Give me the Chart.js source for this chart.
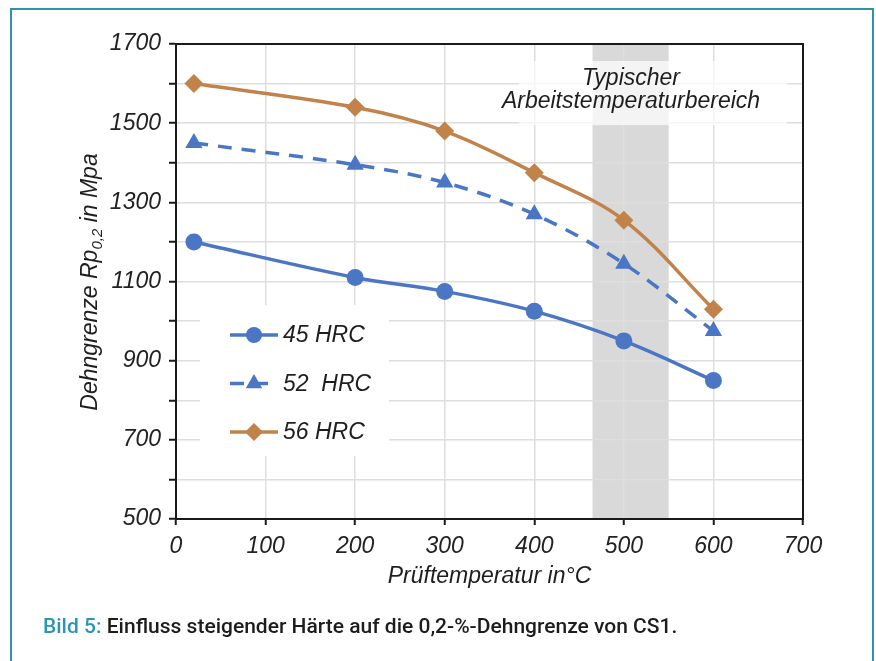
<!DOCTYPE html>
<html>
<head>
<meta charset="utf-8">
<script src="https://cdn.jsdelivr.net/npm/chart.js@4.4.0/dist/chart.umd.min.js"></script>
<style>
  body { margin: 0; background: #fff; }
  #frame { position: absolute; left: 10px; top: 8px; width: 860px; height: 700px; border: 2.5px solid #3191ac; }
  #c { position: absolute; left: 0; top: 0; }
  #caption { position: absolute; left: 43px; top: 614px; font-family: Roboto, sans-serif; font-weight: 500; font-size: 21px; color: #1c1c1c; white-space: nowrap; }
  #caption span { color: #2b95b4; }
</style>
</head>
<body>
<div id="frame"></div>
<canvas id="c" width="876" height="661"></canvas>
<div id="caption"><span>Bild 5:</span> Einfluss steigender Härte auf die 0,2-%-Dehngrenze von CS1.</div>
<script>
// Werte
const temps = [20, 200, 300, 400, 500, 600];
const hrc45 = [1200, 1110, 1075, 1025, 950, 850];
const hrc52 = [1450, 1395, 1350, 1270, 1145, 975];
const hrc56 = [1600, 1540, 1480, 1375, 1255, 1030];
const seriesLabels = ['45 HRC', '52  HRC', '56 HRC'];
const bandRange = [465, 550];
const bandText = ['Typischer', 'Arbeitstemperaturbereich'];
const xTitle = 'Prüftemperatur in°C';
const yTitle = ['Dehngrenze Rp', '0,2', ' in Mpa'];

const blue = '#4a76c3';
const brown = '#c1834a';
const fam = '"Liberation Sans", Arial, sans-serif';
const font = 'italic 23px ' + fam;

function pts(ys) {
    return temps.map((t, i) => ({x: t, y: ys[i]}));
}

const extras = {
    id: 'extras',
    beforeDraw(chart) {
        const {ctx, chartArea: a, scales: {x}} = chart;
        ctx.save();
        ctx.fillStyle = '#d9d9d9';
        const x1 = x.getPixelForValue(bandRange[0]), x2 = x.getPixelForValue(bandRange[1]);
        ctx.fillRect(x1, a.top, x2 - x1, a.bottom - a.top);
        ctx.restore();
    },
    beforeDatasetsDraw(chart) {
        const {ctx, chartArea: a, scales: {x, y}} = chart;
        ctx.save();
        // Textfeld
        ctx.fillStyle = 'rgba(255,255,255,0.7)';
        ctx.fillRect(x.getPixelForValue(383), y.getPixelForValue(1657), x.getPixelForValue(682) - x.getPixelForValue(383), y.getPixelForValue(1495) - y.getPixelForValue(1657));
        ctx.fillStyle = '#1e1e1e';
        ctx.font = font;
        ctx.textAlign = 'center';
        ctx.textBaseline = 'middle';
        ctx.fillText(bandText[0], 631, 79);
        ctx.fillText(bandText[1], 631, 102);
        // Legendenfeld
        ctx.fillStyle = '#fff';
        ctx.fillRect(a.left + 24, 305, 189, 151);
        // Rahmen
        ctx.strokeStyle = '#1a1a1a';
        ctx.lineWidth = 2;
        ctx.strokeRect(a.left, a.top, a.right - a.left, a.bottom - a.top);
        ctx.restore();
    },
    afterDraw(chart) {
        const {ctx, chartArea: a} = chart;
        ctx.save();
        ctx.font = font;
        // Legende
        chart.data.datasets.forEach((ds, i) => {
            const ly = 335 + i * 48.5;
            ctx.strokeStyle = ds.borderColor;
            ctx.lineWidth = 3.5;
            ctx.setLineDash(ds.borderDash || []);
            ctx.beginPath();
            ctx.moveTo(230, ly);
            ctx.lineTo(278, ly);
            ctx.stroke();
            ctx.setLineDash([]);
            ctx.fillStyle = ds.borderColor;
            Chart.helpers.drawPoint(ctx, {pointStyle: ds.pointStyle, radius: ds.pointRadius - 0.5, rotation: 0, borderWidth: 0}, 254, ly);
            ctx.fillStyle = '#1e1e1e';
            ctx.textAlign = 'left';
            ctx.textBaseline = 'middle';
            ctx.fillText(ds.label, 283, ly + 1);
        });
        // x-Achsentitel
        ctx.textAlign = 'center';
        ctx.textBaseline = 'middle';
        ctx.fillText(xTitle, (a.left + a.right) / 2, 577);
        // y-Achsentitel mit Index
        ctx.translate(89, 282);
        ctx.rotate(-Math.PI / 2);
        const small = 'italic 15px ' + fam;
        const w0 = ctx.measureText(yTitle[0]).width;
        ctx.font = small;
        const w1 = ctx.measureText(yTitle[1]).width;
        ctx.font = font;
        const w2 = ctx.measureText(yTitle[2]).width;
        const sx = -(w0 + w1 + w2) / 2;
        ctx.textAlign = 'left';
        ctx.textBaseline = 'alphabetic';
        ctx.fillText(yTitle[0], sx, 8);
        ctx.font = small;
        ctx.fillText(yTitle[1], sx + w0, 13);
        ctx.font = font;
        ctx.fillText(yTitle[2], sx + w0 + w1, 8);
        ctx.restore();
    }
};

new Chart(document.getElementById('c'), {
    type: 'line',
    data: {
        datasets: [{
            label: seriesLabels[0],
            data: pts(hrc45),
            borderColor: blue,
            backgroundColor: blue,
            borderWidth: 3.5,
            pointStyle: 'circle',
            pointRadius: 8.5,
            pointBorderWidth: 0
        }, {
            label: seriesLabels[1],
            data: pts(hrc52),
            borderColor: blue,
            backgroundColor: blue,
            borderWidth: 3.5,
            borderDash: [14, 10],
            pointStyle: 'triangle',
            pointRadius: 10,
            pointBorderWidth: 0
        }, {
            label: seriesLabels[2],
            data: pts(hrc56),
            borderColor: brown,
            backgroundColor: brown,
            borderWidth: 3.5,
            pointStyle: 'rectRot',
            pointRadius: 9.5,
            pointBorderWidth: 0
        }]
    },
    options: {
        responsive: false,
        animation: false,
        layout: {padding: {left: 0, right: 73, top: 44, bottom: 0}},
        elements: {line: {tension: 0.35}},
        plugins: {legend: {display: false}, tooltip: {enabled: false}},
        scales: {
            x: {
                type: 'linear',
                min: 0,
                max: 700,
                afterFit: s => { s.height = 142; },
                ticks: {stepSize: 100, font: {size: 23, style: 'italic', family: fam}, color: '#222', padding: 8},
                grid: {color: '#dedede', lineWidth: 1.5, tickLength: 6, tickColor: '#1a1a1a', tickWidth: 2},
                border: {color: '#1a1a1a', width: 2}
            },
            y: {
                min: 500,
                max: 1700,
                afterFit: s => { s.width = 176; },
                ticks: {stepSize: 100, callback: v => v % 200 === 100 ? v : '', font: {size: 23, style: 'italic', family: fam}, color: '#222', padding: 8},
                grid: {color: '#dedede', lineWidth: 1.5, tickLength: 7, tickColor: '#1a1a1a', tickWidth: 2},
                border: {color: '#1a1a1a', width: 2}
            }
        }
    },
    plugins: [extras]
});
</script>
</body>
</html>
